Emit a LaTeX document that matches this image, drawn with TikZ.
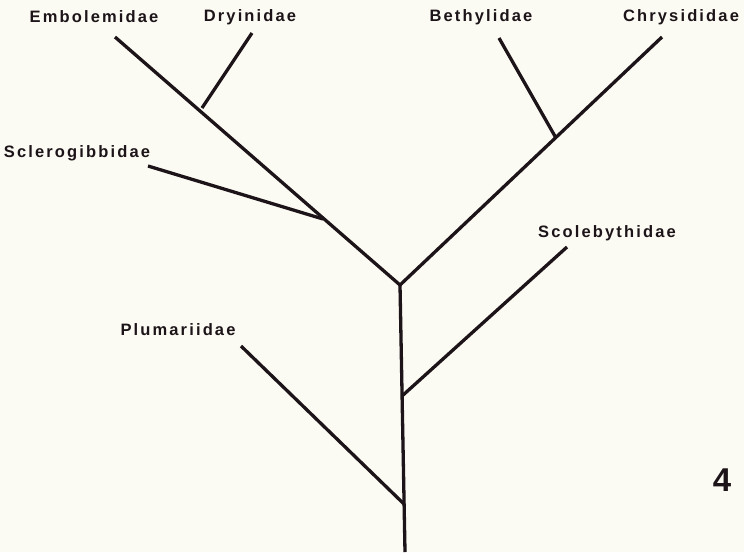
\documentclass[tikz,border=0pt]{standalone}
\usepackage{fontspec}
\usepackage{xcolor}
\usepackage{tikz}
\newfontfamily\taxonfont{Liberation Sans}[LetterSpace=13]
\newfontfamily\figfont{Liberation Sans}
\definecolor{inkc}{HTML}{1C1418}
\definecolor{paper}{HTML}{FBFBF3}
\tikzset{
	x=1pt,
	y=-1pt,
	taxon/.style={
		font=\taxonfont\bfseries\fontsize{16.5}{19}\selectfont,
		text=inkc,
		inner sep=0pt
	},
	branch/.style={
		line width=3.3pt,
		draw=inkc,
		line join=miter
	}
}

\begin{document}
\begin{tikzpicture}
	\fill [paper] (0,0) rectangle (744,552);
	\useasboundingbox (0,0) rectangle (744,552);

	% junctions on the tree
	\draw
		coordinate (root) at (405,552)
		coordinate (jPlu) at (404,504)
		coordinate (jSco) at (402,396)
		coordinate (jTop) at (400,285)
		coordinate (jScl) at (323,219)
		coordinate (jDry) at (202,108)
		coordinate (jBet) at (556,138)

		% free ends of the branches
		coordinate (eEmb) at (115,37)
		coordinate (eDry) at (252,33)
		coordinate (eBet) at (499,38)
		coordinate (eChr) at (662,37)
		coordinate (eScl) at (148,166)
		coordinate (eSco) at (567,247)
		coordinate (ePlu) at (241,346)

		node [taxon] (tEmb) at (94,17)   {Embolemidae}
		node [taxon] (tDry) at (250,17)  {Dryinidae}
		node [taxon] (tBet) at (481,17)  {Bethylidae}
		node [taxon] (tChr) at (681,17)  {Chrysididae}
		node [taxon] (tScl) at (77,153)  {Sclerogibbidae}
		node [taxon] (tSco) at (607,233) {Scolebythidae}
		node [taxon] (tPlu) at (178,330) {Plumariidae}
	;

	\draw [branch] (root) -- (jTop);
	\draw [branch] (eEmb) -- (jTop) -- (eChr);
	\draw [branch]
		(jPlu) edge (ePlu)
		(jSco) edge (eSco)
		(jScl) edge (eScl)
		(jDry) edge (eDry)
		(jBet) edge (eBet)
	;

	\node [font=\figfont\bfseries\fontsize{33}{36}\selectfont, text=inkc, inner sep=0pt]
		(plate) at (722,480) {4};
\end{tikzpicture}
\end{document}
